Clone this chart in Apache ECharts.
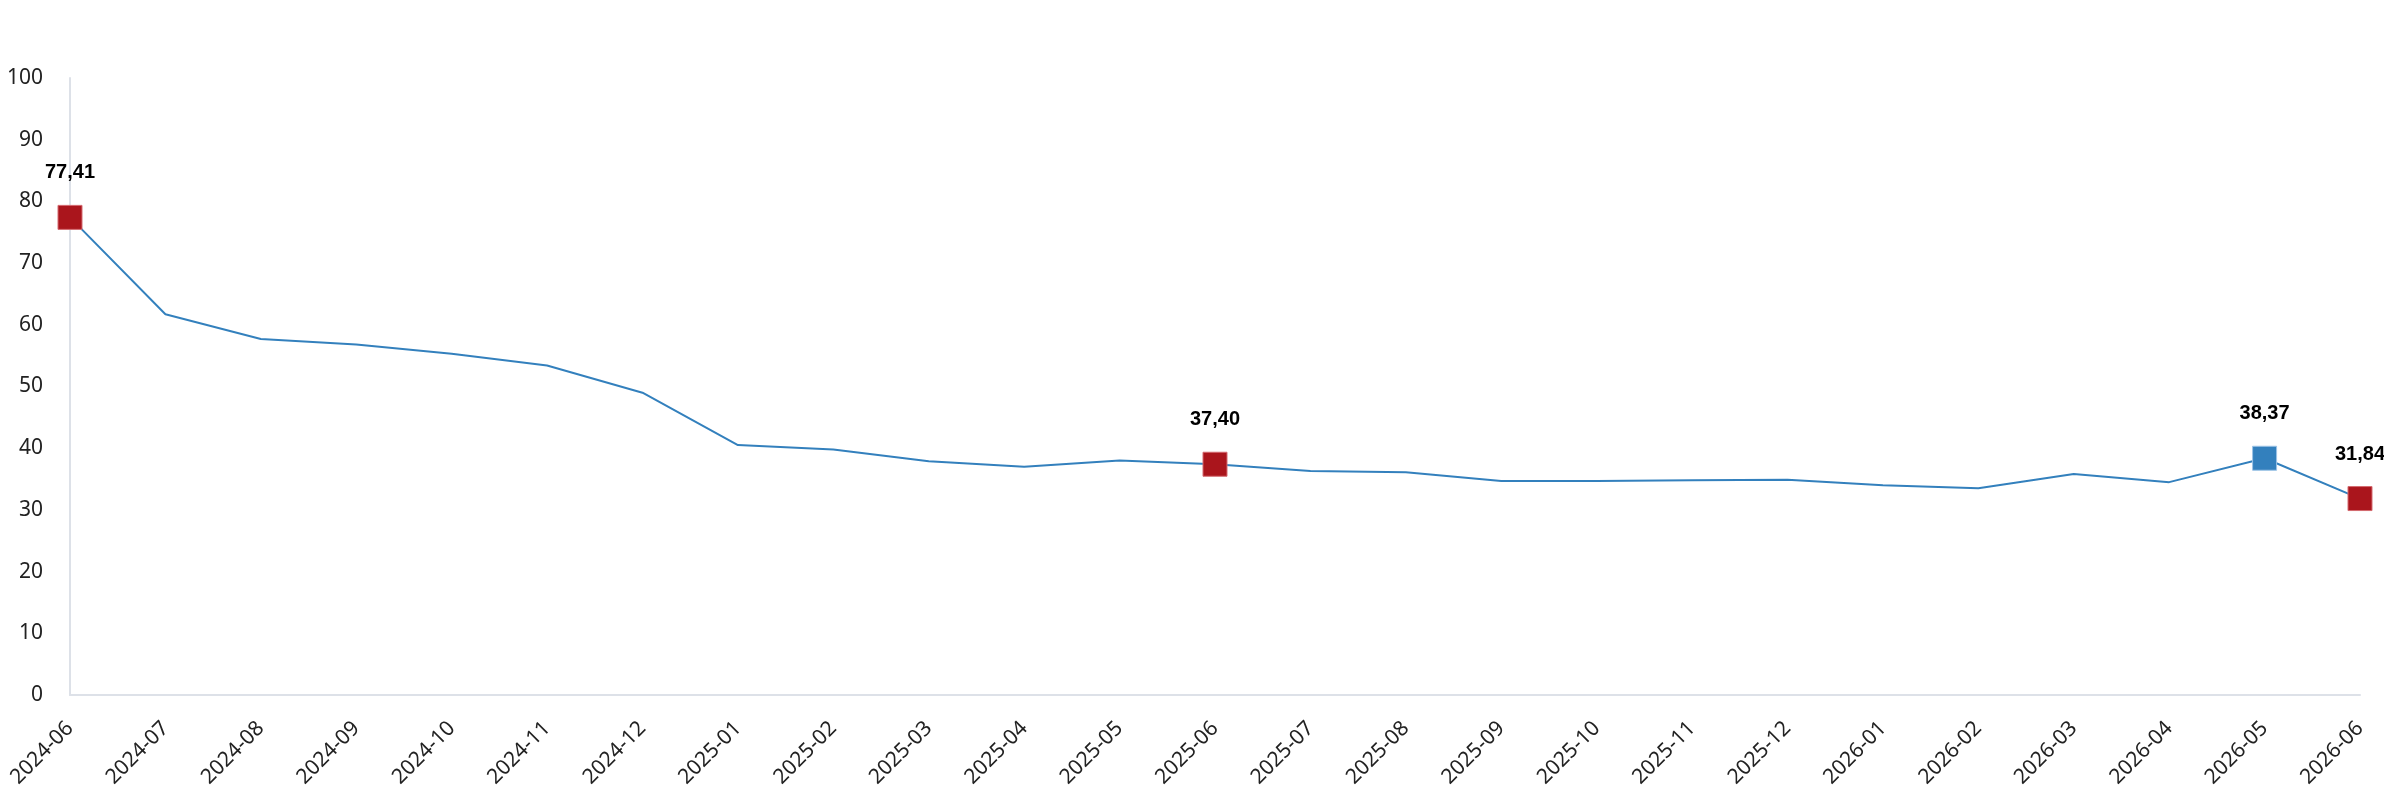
<!DOCTYPE html>
<html>
<head>
<meta charset="utf-8">
<script src="https://cdn.jsdelivr.net/npm/echarts@6/dist/echarts.min.js"></script>
<style>html,body{margin:0;padding:0;background:#fff}#c{width:2384px;height:800px}</style>
</head>
<body>
<div id="c"></div>
<script>
const categories = ['2024-06','2024-07','2024-08','2024-09','2024-10','2024-11','2024-12',
  '2025-01','2025-02','2025-03','2025-04','2025-05','2025-06','2025-07','2025-08','2025-09',
  '2025-10','2025-11','2025-12','2026-01','2026-02','2026-03','2026-04','2026-05','2026-06'];
const values = [77.41,61.7,57.7,56.8,55.3,53.4,49.0,
  40.5,39.8,37.9,37.0,38.0,37.40,36.3,36.1,34.7,
  34.7,34.8,34.9,34.0,33.5,35.8,34.5,38.37,31.84];
const redMonths = ['2024-06','2025-06','2026-06'];
const blueMonths = ['2026-05'];

const LINE = '#3380bd', RED = '#aa151c', BLUE = '#3380bd';
const data = values.map((v, i) => {
  const c = categories[i];
  const isRed = redMonths.includes(c), isBlue = blueMonths.includes(c);
  if (!isRed && !isBlue) return { value: v, symbol: 'none', label: { show: false } };
  return {
    value: v,
    symbol: 'rect',
    symbolSize: 24,
    itemStyle: { color: isRed ? RED : BLUE, borderColor: isRed ? '#d46a70' : '#9cc3e6', borderWidth: 1 },
    label: { show: true }
  };
});

const chart = echarts.init(document.getElementById('c'));
chart.setOption({
  animation: false,
  grid: { left: 70, right: 24, top: 78, bottom: 105 },
  xAxis: {
    type: 'category', data: categories, boundaryGap: false,
    axisLine: { show: true, lineStyle: { color: '#dde1e8', width: 2 } },
    axisTick: { show: false },
    axisLabel: { rotate: 45, interval: 0, fontSize: 21, color: '#222', fontFamily: 'Noto Sans', margin: 30 },
    splitLine: { show: false }
  },
  yAxis: {
    type: 'value', min: 0, max: 100, interval: 10,
    axisLine: { show: true, lineStyle: { color: '#dde1e8', width: 2 } },
    axisTick: { show: false },
    axisLabel: { fontSize: 21, color: '#222', fontFamily: 'Noto Sans', margin: 27 },
    splitLine: { show: false }
  },
  series: [{
    type: 'line',
    data: data,
    showSymbol: true,
    lineStyle: { color: LINE, width: 2 },
    itemStyle: { color: LINE },
    label: {
      position: 'top', distance: 22,
      fontSize: 20, fontWeight: 'bold', color: '#000', fontFamily: 'Liberation Sans',
      formatter: p => p.value.toFixed(2).replace('.', ',')
    },
    z: 3
  }]
});
</script>
</body>
</html>
